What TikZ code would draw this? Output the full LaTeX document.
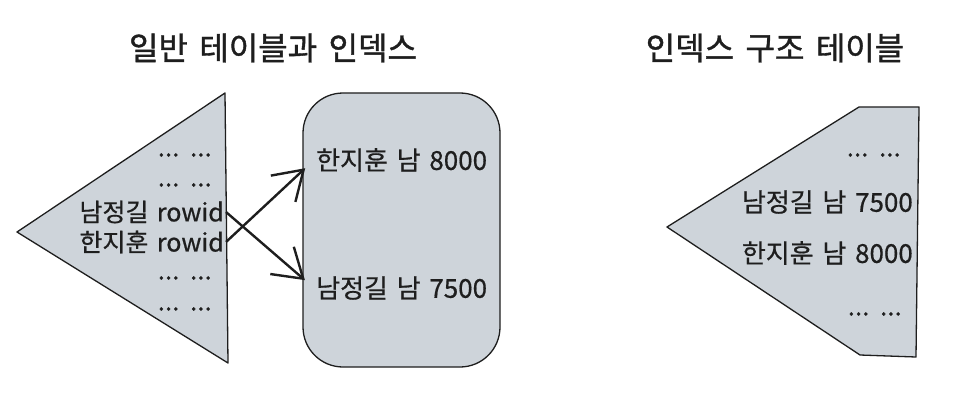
\documentclass[tikz,border=0pt]{standalone}
\usepackage{fontspec}
\newfontfamily\krfont[FakeBold=0.6, WordSpace=1.5]{Noto Sans CJK KR}
\newfontfamily\krtitlefont[FakeBold=1.2, WordSpace=1.6]{Noto Sans CJK KR}
\usetikzlibrary{arrows.meta}
\definecolor{tablegray}{HTML}{CED4DA}
\definecolor{ink}{HTML}{1E1E1E}

\begin{document}
\begin{tikzpicture}[x=1pt, y=-1pt,
		shapeline/.style={draw=ink, fill=tablegray, line width=1.3pt, line join=round},
		rowtext/.style={font=\krfont\fontsize{26}{30}\selectfont, text=ink, inner sep=2pt},
		ridtext/.style={rowtext, font=\krfont\fontsize{25}{30}\selectfont},
		titletext/.style={font=\krtitlefont\fontsize{32}{36}\selectfont, text=ink},
		linkarrow/.style={draw=ink, line width=2.4pt, -{Straight Barb[length=28pt, width=36pt, line width=2.4pt]}, shorten >=12pt}]
				% Paths, nodes and wires:
				\useasboundingbox (0, 0) rectangle (976, 409);
				\node[titletext](T1) at (273, 48){일반 테이블과 인덱스};
				\node[titletext](T2) at (775, 48){인덱스 구조 테이블};
				\draw[shapeline] (17, 232) -- (225, 93) -- (228, 363) -- cycle;
				\draw[shapeline, rounded corners=40pt] (303, 93) rectangle (500, 367);
				\draw[shapeline] (667, 227) -- (859, 107) -- (919, 107) -- (916, 357) -- (860, 355) -- cycle;
				% table with rowid
				\node[rowtext, anchor=east](N1) at (214, 155){... ...};
				\node[rowtext, anchor=east](N2) at (214, 185){... ...};
				\node[ridtext, anchor=east](N3) at (226, 212){남정길 rowid};
				\node[ridtext, anchor=east](N4) at (226, 242){한지훈 rowid};
				\node[rowtext, anchor=east](N5) at (214, 278){... ...};
				\node[rowtext, anchor=east](N6) at (214, 309){... ...};
				\node[rowtext, anchor=west](N7) at (314, 160){한지훈 남 8000};
				\node[rowtext, anchor=west](N8) at (314, 288){남정길 남 7500};
				\draw[linkarrow] (N4.east) -- (N7.west);
				\draw[linkarrow] (N3.east) -- (N8.west);
				% index organized table
				\node[rowtext, anchor=east](N9) at (903, 155){... ...};
				\node[rowtext, anchor=east](N10) at (915, 202){남정길 남 7500};
				\node[rowtext, anchor=east](N11) at (915, 253){한지훈 남 8000};
				\node[rowtext, anchor=east](N12) at (904, 314){... ...};
			\end{tikzpicture}
\end{document}
